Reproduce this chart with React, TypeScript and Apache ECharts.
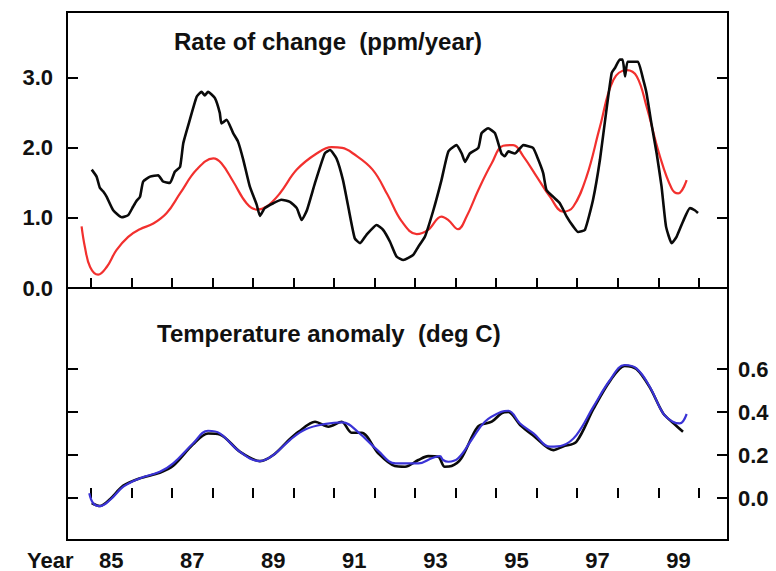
import React, { useEffect, useRef } from "react";
import * as echarts from "echarts";

// Top panel: CO2 rate of change (ppm/year)
const rateYears = [1985.02, 1985.14, 1985.22, 1985.30, 1985.39, 1985.55, 1985.76, 1985.92, 1986.04, 1986.12, 1986.21, 1986.29, 1986.46, 1986.66, 1986.78, 1986.95, 1987.07, 1987.20, 1987.28, 1987.44, 1987.61, 1987.73, 1987.81, 1987.89, 1988.06, 1988.18, 1988.22, 1988.35, 1988.51, 1988.63, 1988.76, 1988.92, 1989.09, 1989.17, 1989.29, 1989.50, 1989.70, 1989.91, 1990.08, 1990.20, 1990.33, 1990.53, 1990.77, 1990.90, 1991.06, 1991.22, 1991.35, 1991.51, 1991.64, 1991.80, 1992.05, 1992.21, 1992.38, 1992.54, 1992.71, 1992.95, 1993.08, 1993.24, 1993.45, 1993.65, 1993.82, 1994.02, 1994.15, 1994.23, 1994.35, 1994.56, 1994.64, 1994.80, 1994.97, 1995.13, 1995.21, 1995.30, 1995.46, 1995.67, 1995.91, 1996.04, 1996.16, 1996.24, 1996.41, 1996.57, 1996.74, 1996.90, 1997.02, 1997.19, 1997.39, 1997.56, 1997.72, 1997.85, 1997.93, 1998.05, 1998.12, 1998.18, 1998.24, 1998.38, 1998.50, 1998.63, 1998.71, 1998.83, 1998.96, 1999.08, 1999.19, 1999.33, 1999.45, 1999.61, 1999.78, 1999.90, 1999.98];
const rateValues = [1.69, 1.59, 1.43, 1.38, 1.30, 1.11, 1.01, 1.04, 1.16, 1.24, 1.30, 1.52, 1.59, 1.61, 1.52, 1.50, 1.66, 1.73, 2.07, 2.40, 2.73, 2.80, 2.75, 2.80, 2.71, 2.50, 2.35, 2.40, 2.21, 2.09, 1.83, 1.45, 1.19, 1.03, 1.14, 1.21, 1.26, 1.23, 1.14, 0.97, 1.11, 1.50, 1.92, 1.97, 1.85, 1.54, 1.16, 0.71, 0.64, 0.76, 0.90, 0.83, 0.66, 0.45, 0.40, 0.47, 0.59, 0.73, 1.11, 1.54, 1.95, 2.04, 1.92, 1.80, 1.92, 2.00, 2.21, 2.28, 2.21, 1.92, 1.88, 1.95, 1.92, 2.04, 2.00, 1.83, 1.64, 1.40, 1.30, 1.21, 1.02, 0.88, 0.80, 0.83, 1.26, 1.83, 2.54, 3.07, 3.14, 3.26, 3.26, 3.02, 3.23, 3.23, 3.23, 2.97, 2.78, 2.35, 1.92, 1.45, 0.88, 0.64, 0.73, 0.95, 1.14, 1.11, 1.07];

const rateModelYears = [1984.77, 1984.85, 1984.98, 1985.18, 1985.39, 1985.63, 1985.92, 1986.21, 1986.54, 1986.87, 1987.20, 1987.61, 1988.02, 1988.22, 1988.51, 1988.84, 1989.09, 1989.33, 1989.66, 1990.08, 1990.57, 1990.94, 1991.20, 1991.47, 1991.95, 1992.32, 1992.67, 1993.04, 1993.32, 1993.65, 1993.82, 1994.06, 1994.27, 1994.56, 1994.89, 1995.17, 1995.42, 1995.67, 1996.00, 1996.33, 1996.65, 1996.90, 1997.23, 1997.56, 1997.89, 1998.22, 1998.47, 1998.71, 1999.04, 1999.33, 1999.49, 1999.70];
const rateModelValues = [0.88, 0.59, 0.30, 0.19, 0.30, 0.54, 0.73, 0.84, 0.92, 1.07, 1.35, 1.69, 1.85, 1.78, 1.52, 1.21, 1.12, 1.16, 1.35, 1.69, 1.92, 2.01, 2.00, 1.92, 1.69, 1.33, 0.95, 0.77, 0.83, 1.02, 0.97, 0.84, 1.02, 1.40, 1.78, 2.03, 2.04, 1.88, 1.59, 1.30, 1.09, 1.16, 1.59, 2.30, 2.97, 3.11, 3.02, 2.59, 1.88, 1.42, 1.35, 1.54];

// Bottom panel: temperature anomaly (deg C)
const tempYears = [1985.02, 1985.22, 1985.47, 1985.80, 1986.21, 1986.70, 1987.03, 1987.52, 1987.89, 1988.18, 1988.68, 1989.17, 1989.50, 1989.91, 1990.12, 1990.53, 1990.86, 1991.19, 1991.43, 1991.68, 1992.09, 1992.50, 1992.75, 1993.08, 1993.32, 1993.57, 1993.73, 1993.90, 1994.14, 1994.55, 1994.89, 1995.13, 1995.30, 1995.59, 1995.92, 1996.41, 1996.65, 1996.98, 1997.40, 1997.81, 1998.17, 1998.46, 1998.79, 1999.12, 1999.36, 1999.61];
const tempValues = [-0.023, -0.037, -0.005, 0.058, 0.092, 0.118, 0.150, 0.250, 0.300, 0.296, 0.215, 0.172, 0.200, 0.275, 0.308, 0.355, 0.332, 0.355, 0.304, 0.304, 0.208, 0.149, 0.146, 0.177, 0.195, 0.192, 0.146, 0.149, 0.185, 0.332, 0.355, 0.394, 0.400, 0.340, 0.290, 0.223, 0.240, 0.262, 0.415, 0.545, 0.615, 0.600, 0.515, 0.394, 0.350, 0.308];

const tempModelYears = [1984.96, 1985.06, 1985.22, 1985.47, 1985.80, 1986.21, 1986.70, 1987.03, 1987.52, 1987.89, 1988.18, 1988.68, 1989.17, 1989.50, 1989.91, 1990.30, 1990.80, 1991.20, 1991.60, 1992.07, 1992.52, 1993.08, 1993.41, 1993.61, 1993.69, 1993.82, 1994.06, 1994.39, 1994.72, 1995.13, 1995.30, 1995.59, 1995.92, 1996.33, 1996.65, 1996.98, 1997.40, 1997.81, 1998.17, 1998.46, 1998.79, 1999.12, 1999.36, 1999.53, 1999.70];
const tempModelValues = [0.022, -0.025, -0.037, -0.009, 0.053, 0.092, 0.122, 0.161, 0.254, 0.313, 0.301, 0.215, 0.172, 0.200, 0.270, 0.320, 0.345, 0.352, 0.306, 0.223, 0.161, 0.161, 0.185, 0.195, 0.177, 0.169, 0.185, 0.270, 0.355, 0.401, 0.406, 0.347, 0.301, 0.239, 0.246, 0.293, 0.425, 0.549, 0.619, 0.603, 0.518, 0.394, 0.355, 0.347, 0.391];

// Axes
const yearTicks = [1985, 1986, 1987, 1988, 1989, 1990, 1991, 1992, 1993, 1994, 1995, 1996, 1997, 1998, 1999, 2000];
const yearLabels = ["85", "87", "89", "91", "93", "95", "97", "99"];
const rateTicks = [0, 1, 2, 3];
const tempTicks = [0, 0.2, 0.4, 0.6];
const titleTop = "Rate of change  (ppm/year)";
const titleBottom = "Temperature anomaly  (deg C)";

const FONT = "'Liberation Sans', Arial, Helvetica, sans-serif";
const X_MIN = 1984.41;
const X_MAX = 2000.72;

const pairs = (xs: number[], ys: number[]) => xs.map((x, i) => [x, ys[i]]);

export default function App() {
  const ref = useRef<HTMLDivElement>(null);
  useEffect(() => {
    if (!ref.current) return;
    const chart = echarts.init(ref.current, undefined, { renderer: "svg" });
    const labelPos = yearLabels.map((s) => 1900 + Number(s) + 0.5);
    const labelText: Record<string, string> = {};
    labelPos.forEach((p, i) => (labelText[p.toFixed(1)] = yearLabels[i]));

    const tickStyle = { show: true, inside: true, length: 10, lineStyle: { color: "#000", width: 2 } };
    const labelStyle = { fontFamily: FONT, fontWeight: "bold" as const, fontSize: 22, color: "#111" };
    const titleStyle = { fontFamily: FONT, fontWeight: "bold" as const, fontSize: 24, color: "#111" };

    const xBase = {
      type: "value" as const,
      min: X_MIN,
      max: X_MAX,
      axisLine: { show: false },
      splitLine: { show: false },
      axisTick: { ...tickStyle, customValues: yearTicks },
    };

    chart.setOption({
      animation: false,
      backgroundColor: "#fff",
      title: [
        { text: titleTop, left: 174, top: 29, padding: 0, textStyle: titleStyle },
        { text: titleBottom, left: 157, top: 321, padding: 0, textStyle: titleStyle },
      ],
      graphic: [
        { type: "text", left: 27, top: 549, style: { text: "Year", font: `bold 22px ${FONT}`, fill: "#111" } },
      ],
      grid: [
        { left: 67, top: 12, width: 661, height: 276, show: true, borderColor: "#000", borderWidth: 2, backgroundColor: "transparent" },
        { left: 67, top: 288, width: 661, height: 252, show: true, borderColor: "#000", borderWidth: 2, backgroundColor: "transparent" },
      ],
      xAxis: [
        { ...xBase, gridIndex: 0, position: "bottom", axisLabel: { show: false } },
        {
          ...xBase,
          gridIndex: 1,
          position: "bottom",
          axisLabel: {
            ...labelStyle,
            show: true,
            margin: 9,
            customValues: labelPos,
            formatter: (v: number) => labelText[v.toFixed(1)] ?? "",
          },
        },
      ],
      yAxis: [
        {
          type: "value", gridIndex: 0, position: "left", min: 0, max: 3.94,
          axisLine: { show: false }, splitLine: { show: false },
          axisTick: { ...tickStyle, length: 11, customValues: rateTicks },
          axisLabel: { ...labelStyle, margin: 14, customValues: rateTicks, formatter: (v: number) => v.toFixed(1) },
        },
        {
          type: "value", gridIndex: 0, position: "right", min: 0, max: 3.94,
          axisLine: { show: false }, splitLine: { show: false },
          axisTick: { ...tickStyle, length: 11, customValues: rateTicks },
          axisLabel: { show: false },
        },
        {
          type: "value", gridIndex: 1, position: "left", min: -0.195, max: 0.977,
          axisLine: { show: false }, splitLine: { show: false },
          axisTick: { ...tickStyle, length: 11, customValues: tempTicks },
          axisLabel: { show: false },
        },
        {
          type: "value", gridIndex: 1, position: "right", min: -0.195, max: 0.977,
          axisLine: { show: false }, splitLine: { show: false },
          axisTick: { ...tickStyle, length: 11, customValues: tempTicks },
          axisLabel: { ...labelStyle, margin: 10, customValues: tempTicks, formatter: (v: number) => v.toFixed(1) },
        },
      ],
      series: [
        {
          type: "line", xAxisIndex: 0, yAxisIndex: 0, data: pairs(rateModelYears, rateModelValues),
          showSymbol: false, smooth: 0.4, lineStyle: { color: "#f2302e", width: 2.2 }, z: 2,
        },
        {
          type: "line", xAxisIndex: 0, yAxisIndex: 0, data: pairs(rateYears, rateValues),
          showSymbol: false, smooth: 0.15, lineStyle: { color: "#0a0a0a", width: 2.6 }, z: 3,
        },
        {
          type: "line", xAxisIndex: 1, yAxisIndex: 3, data: pairs(tempYears, tempValues),
          showSymbol: false, smooth: 0.3, lineStyle: { color: "#0a0a0a", width: 2.6 }, z: 2,
        },
        {
          type: "line", xAxisIndex: 1, yAxisIndex: 3, data: pairs(tempModelYears, tempModelValues),
          showSymbol: false, smooth: 0.4, lineStyle: { color: "#3a33d6", width: 2.2 }, z: 3,
        },
      ],
    });
    return () => chart.dispose();
  }, []);
  return (
    <div
      ref={ref}
      style={{ position: "fixed", left: 0, top: 0, width: 776, height: 571, background: "#fff" }}
    />
  );
}
